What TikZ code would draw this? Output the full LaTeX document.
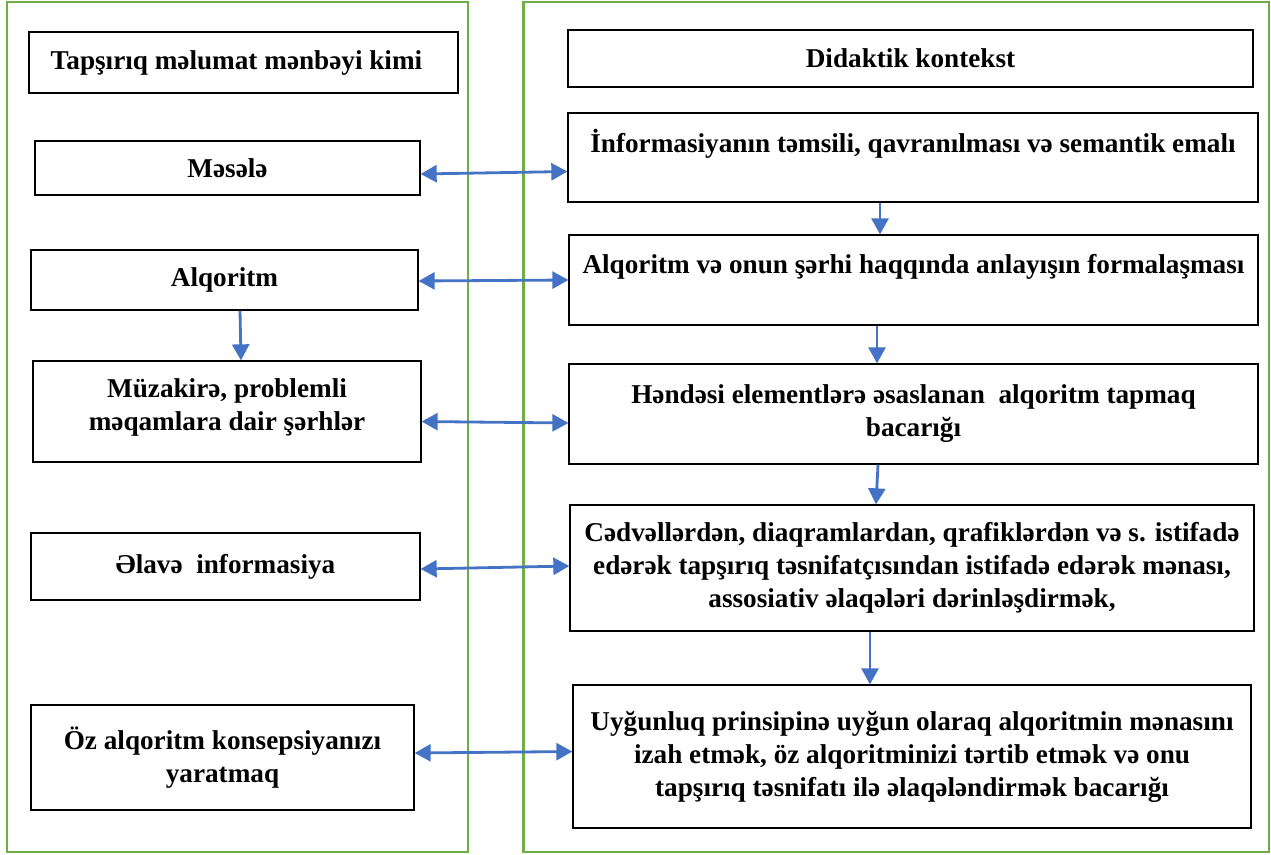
\documentclass[tikz,border=0pt]{standalone}
\usepackage{fontspec}
\setmainfont{Liberation Serif}
\usepackage{tikz}
\usetikzlibrary{arrows.meta}

\definecolor{framegreen}{HTML}{70AD47}
\definecolor{arrowblue}{HTML}{4472C4}

\begin{document}
\begin{tikzpicture}[
x=1pt, y=-1pt,
box/.style={draw=black, line width=1.3pt, inner sep=0pt, align=center, font=\bfseries\fontsize{27.2}{33}\selectfont},
frame/.style={draw=framegreen, line width=2.8pt},
link/.style={{Triangle[length=16pt,width=17pt]}-{Triangle[length=16pt,width=17pt]}, line width=2.8pt, arrowblue},
arrow/.style={-{Triangle[length=16pt,width=17pt]}, line width=2.8pt, arrowblue}
]
\useasboundingbox (0,0) rectangle (1271,854);
% green panels
\draw[frame] (7,2) rectangle (468,852);
\draw[frame] (523.5,2) rectangle (1269,852);

% left column
\node[box, minimum width=429pt, minimum height=61pt] (kimi) at (243.5,62.5) {Tapşırıq məlumat mənbəyi kimi\hspace*{14pt}};
\node[box, minimum width=385pt, minimum height=54pt] (mesele) at (227.5,168) {Məsələ};
\node[box, minimum width=387pt, minimum height=60pt] (alq) at (224.5,280) {Alqoritm};
\node[box, minimum width=388pt, minimum height=101pt] (muz) at (227,411.5) {Müzakirə, problemli\\məqamlara dair şərhlər\\[-19pt]~};
\node[box, minimum width=389pt, minimum height=67pt] (elave) at (225.5,566.5) {Əlavə\ \ informasiya};
\node[box, minimum width=383pt, minimum height=105pt] (oz) at (222.5,757.5) {Öz alqoritm konsepsiyanızı\\yaratmaq};

% right column
\node[box, minimum width=685pt, minimum height=57pt] (didaktik) at (910.5,58.5) {Didaktik kontekst};
\node[box, minimum width=690pt, minimum height=89pt] (info) at (913,157.5) {İnformasiyanın təmsili, qavranılması və semantik emalı\\~};
\node[box, minimum width=689pt, minimum height=90pt] (alqsh) at (913.5,280) {Alqoritm və onun şərhi haqqında anlayışın formalaşması\\~};
\node[box, minimum width=689pt, minimum height=100pt] (hend) at (913.5,414) {Həndəsi elementlərə əsaslanan\ \ alqoritm tapmaq\\bacarığı};
\node[box, minimum width=684pt, minimum height=126pt] (cedv) at (912,568) {Cədvəllərdən, diaqramlardan, qrafiklərdən və s. istifadə\\edərək tapşırıq təsnifatçısından istifadə edərək mənası,\\assosiativ əlaqələri dərinləşdirmək,};
\node[box, minimum width=678pt, minimum height=143pt] (uygun) at (912,756.5) {Uyğunluq prinsipinə uyğun olaraq alqoritmin mənasını\\izah etmək, öz alqoritminizi tərtib etmək və onu\\tapşırıq təsnifatı ilə əlaqələndirmək bacarığı};

% links between columns
\draw[link] ([yshift=-6pt]mesele.east) -- ([yshift=-14pt]info.west);
\draw[link] ([yshift=-1pt]alq.east) -- (alqsh.west);
\draw[link] ([yshift=-10pt]muz.east) -- ([yshift=-9pt]hend.west);
\draw[link] ([yshift=-2.5pt]elave.east) -- ([yshift=2pt]cedv.west);
\draw[link] ([yshift=4.5pt]oz.east) -- ([yshift=5pt]uygun.west);

% flow
\draw[arrow] ([xshift=-33pt]info.south) -- ([xshift=-33.5pt]alqsh.north);
\draw[arrow] ([xshift=-36.5pt]alqsh.south) -- ([xshift=-36.5pt]hend.north);
\draw[arrow] ([xshift=-35.5pt]hend.south) -- ([xshift=-36pt]cedv.north);
\draw[arrow] ([xshift=-42pt]cedv.south) -- ([xshift=-42pt]uygun.north);
\draw[arrow] ([xshift=15.5pt]alq.south) -- ([xshift=14pt]muz.north);
\end{tikzpicture}
\end{document}
